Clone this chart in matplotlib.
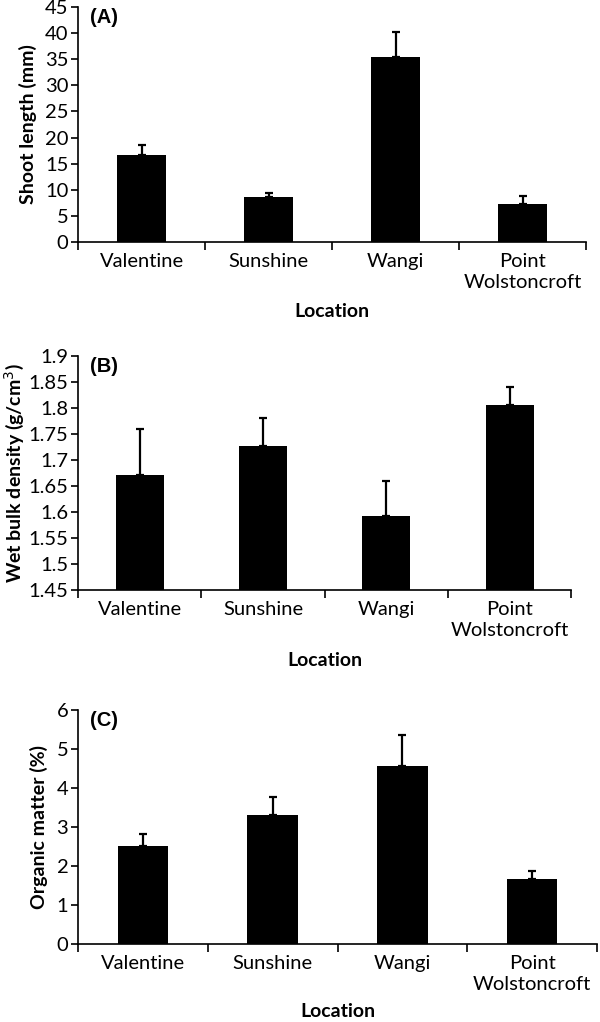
import numpy as np
import matplotlib
matplotlib.use('Agg')
import matplotlib.pyplot as plt
from matplotlib.ticker import FixedLocator, FuncFormatter

locations = ['Valentine', 'Sunshine', 'Wangi', 'Point\nWolstoncroft']

shoot_len = [16.7, 8.6, 35.4, 7.35]
shoot_err = [1.8, 0.8, 4.8, 1.45]

bulk_dens = [1.672, 1.726, 1.592, 1.806]
bulk_err = [0.088, 0.055, 0.068, 0.035]

org_matter = [2.52, 3.32, 4.56, 1.675]
org_err = [0.31, 0.44, 0.81, 0.185]

plt.rcParams['font.family'] = ['Lato', 'DejaVu Sans']

fig = plt.figure(figsize=(6, 10.22), dpi=100)

panels = [
    # rect, values, errors, ylim, ticks, ylabel, tag, ylabel x, xlabel y
    ([0.13, 0.7632, 0.847, 0.230], shoot_len, shoot_err, (0, 45),
     np.arange(0, 46, 5), 'Shoot length (mm)', '(A)', -0.081, -0.26),
    ([0.13, 0.4227, 0.822, 0.229], bulk_dens, bulk_err, (1.45, 1.9),
     np.round(np.arange(1.45, 1.91, 0.05), 2), 'Wet bulk density (g/cm$^3$)', '(B)', -0.106, -0.265),
    ([0.13, 0.0763, 0.865, 0.229], org_matter, org_err, (0, 6),
     np.arange(0, 7, 1), 'Organic matter (%)', '(C)', -0.058, -0.252),
]

def fmt(v, pos):
    s = ('%.2f' % v).rstrip('0').rstrip('.')
    return s

for rect, vals, errs, ylim, ticks, ylab, tag, lx, ly in panels:
    ax = fig.add_axes(rect)
    x = np.arange(len(vals)) + 0.5
    base = ylim[0]
    ax.bar(x, np.array(vals) - base, bottom=base, width=0.39, color='black',
           zorder=2)
    ax.errorbar(x, vals, yerr=[np.zeros(len(errs)), errs], fmt='none',
                ecolor='black', elinewidth=1.6, capsize=3, capthick=1.6,
                zorder=3)
    ax.set_xlim(0, 4)
    ax.set_ylim(*ylim)
    ax.yaxis.set_major_locator(FixedLocator(ticks))
    ax.yaxis.set_major_formatter(FuncFormatter(fmt))
    ax.xaxis.set_major_locator(FixedLocator([0, 1, 2, 3, 4]))
    ax.xaxis.set_major_formatter(FuncFormatter(lambda v, p: ''))
    ax.xaxis.set_minor_locator(FixedLocator(x))
    ax.set_xticklabels(locations, minor=True)
    ax.tick_params(axis='x', which='minor', length=0, pad=8, labelsize=14.5)
    ax.tick_params(axis='x', which='major', length=6, width=1.2, direction='out')
    ax.tick_params(axis='y', length=5, width=1.2, direction='out', labelsize=14.5,
                   pad=2)
    for lbl in ax.get_xticklabels(minor=True):
        lbl.set_verticalalignment('top')
        lbl.set_linespacing(1.25)
    for s in ['top', 'right']:
        ax.spines[s].set_visible(False)
    for s in ['left', 'bottom']:
        ax.spines[s].set_linewidth(1.2)
    ax.set_ylabel(ylab, fontsize=14, fontweight='bold')
    ax.yaxis.set_label_coords(lx, 0.5)
    ax.set_xlabel('Location', fontsize=14, fontweight='bold', va='top')
    ax.xaxis.set_label_coords(0.5, ly)
    ax.text(0.024, 0.957, tag, transform=ax.transAxes, fontsize=14.5,
            fontweight='bold', family='Liberation Sans', va='center', ha='left')

fig.savefig('out.png', dpi=100)
